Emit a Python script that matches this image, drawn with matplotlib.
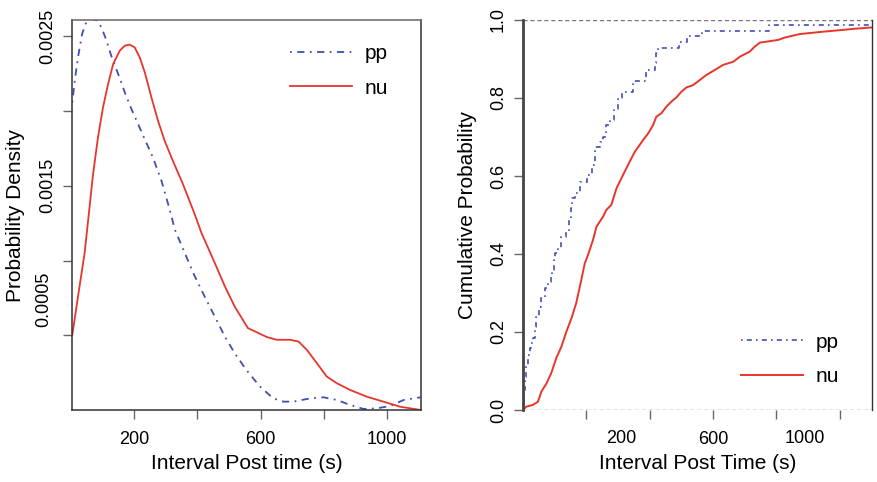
import matplotlib
matplotlib.use("Agg")
import matplotlib.pyplot as plt
import numpy as np

plt.rcParams['font.family'] = ['Liberation Sans', 'DejaVu Sans']

# ---- density curves (left panel) ----
pp_dens_x = [5, 12.6, 23, 36, 49, 65, 81, 97, 113, 128, 150, 171, 192, 213, 234, 260, 287,
             313, 329, 360, 392, 423, 455, 487, 518, 555, 598, 640, 672, 704, 757, 799,
             841, 883, 925, 967, 1010, 1052, 1106]
pp_dens_y = [0.002058, 0.002203, 0.00236, 0.002517, 0.002595, 0.002617, 0.00261, 0.002562,
             0.002472, 0.002371, 0.002248, 0.002125, 0.002013, 0.001913, 0.001812, 0.001689,
             0.001532, 0.00134, 0.001208, 0.001052, 0.000895, 0.00076, 0.000626, 0.000492,
             0.000381, 0.000268, 0.000157, 0.000078, 0.000056, 0.000056, 0.000078, 0.000085,
             0.000067, 0.000034, 0.000007, 0.000011, 0.000027, 0.000067, 0.000085]

nu_dens_x = [5, 23, 44, 57, 70.5, 86, 102, 118, 134, 155, 171, 186, 202, 218, 234, 255, 276,
             297, 323, 355, 392, 413, 455, 487, 518, 560, 620, 651, 693, 720, 746, 778, 809,
             841, 883, 936, 988, 1041, 1106]
nu_dens_y = [0.000503, 0.00076, 0.001052, 0.001309, 0.001577, 0.001823, 0.002025, 0.002181,
             0.002315, 0.002405, 0.002438, 0.002445, 0.002427, 0.00236, 0.00226, 0.002092,
             0.001935, 0.001801, 0.001666, 0.00151, 0.001309, 0.001186, 0.000985, 0.000828,
             0.000693, 0.000548, 0.000488, 0.00047, 0.00047, 0.000458, 0.000403, 0.000313,
             0.000224, 0.000179, 0.000134, 0.000089, 0.000056, 0.000022, 0.0]

# ---- ECDF points (right panel) ----
pp_ecdf_x = [0, 3, 5, 10, 15, 21, 26, 31, 37, 42, 52, 58, 68, 79, 87, 91, 97, 100, 110, 121,
             137, 145, 150, 155, 163, 181, 203, 218, 226, 242, 253, 263, 274, 287, 300, 313,
             347, 387, 416, 421, 426, 493, 519, 564, 776, 1102]
pp_ecdf_y = [0.0, 0.051, 0.085, 0.115, 0.141, 0.158, 0.171, 0.184, 0.214, 0.239, 0.265, 0.286,
             0.312, 0.329, 0.342, 0.359, 0.385, 0.402, 0.415, 0.444, 0.457, 0.487, 0.517, 0.543,
             0.556, 0.585, 0.603, 0.628, 0.675, 0.688, 0.701, 0.731, 0.744, 0.772, 0.799, 0.816,
             0.844, 0.872, 0.889, 0.915, 0.929, 0.944, 0.959, 0.973, 0.987, 0.987]

nu_ecdf_x = [0, 10, 31, 47, 58, 74, 89, 105, 121, 137, 153, 168, 184, 195, 205, 221, 232, 253,
             263, 279, 295, 316, 337, 353, 379, 395, 411, 421, 437, 453, 469, 485, 500, 516,
             537, 558, 579, 606, 632, 664, 685, 716, 732, 748, 806, 827, 874, 948, 1001, 1054,
             1102]
nu_ecdf_y = [0.0, 0.0085, 0.013, 0.021, 0.047, 0.068, 0.094, 0.133, 0.162, 0.201, 0.235, 0.274,
             0.333, 0.376, 0.397, 0.436, 0.47, 0.496, 0.513, 0.526, 0.568, 0.603, 0.637, 0.662,
             0.692, 0.709, 0.731, 0.752, 0.761, 0.778, 0.791, 0.802, 0.816, 0.827, 0.833, 0.846,
             0.859, 0.872, 0.885, 0.893, 0.906, 0.919, 0.932, 0.942, 0.949, 0.955, 0.964, 0.970,
             0.974, 0.978, 0.981]

series_labels = ['pp', 'nu']
x_ticks = [200, 400, 600, 800, 1000]

BLUE = '#3F4FB3'
RED = '#E8352B'
DOTDASH = (0, (1, 3, 4, 3))
TICK_FS = 13
LAB_FS = 15

fig = plt.figure(figsize=(8.77, 4.82), dpi=100)
ax1 = fig.add_axes([72/877, 72/482, 349/877, 390/482])
ax2 = fig.add_axes([523/877, 72/482, 349/877, 390/482])

# ---------------- left panel ----------------
ax1.plot(pp_dens_x, pp_dens_y, color=BLUE, lw=1.3, ls=DOTDASH, label=series_labels[0])
ax1.plot(nu_dens_x, nu_dens_y, color=RED, lw=1.3, label=series_labels[1])
ax1.set_xlim(4, 1107)
ax1.set_ylim(0, 0.00261)
ax1.set_xticks(x_ticks, ['200', '', '600', '', '1000'])
ax1.set_yticks([0.0005, 0.001, 0.0015, 0.002, 0.0025], ['', '', '0.0015', '', '0.0025'])
ax1.set_yticks([0.00074], ['0.0005'], minor=True)
ax1.tick_params(axis='y', which='minor', length=0, pad=14.5)
for sp in ax1.spines.values():
    sp.set_color('#333333')
    sp.set_linewidth(1.1)
ax1.spines['top'].set_color('#666666')

ax1.set_xlabel('Interval Post time (s)', fontsize=LAB_FS)
ax1.set_ylabel('Probability Density', fontsize=LAB_FS)
ax1.xaxis.set_label_coords(0.5, -0.112)
ax1.yaxis.set_label_coords(-0.135, 0.5)
ax1.legend(loc='upper left', bbox_to_anchor=(0.6, 0.96), frameon=False, fontsize=LAB_FS,
           handlelength=3.0, handletextpad=0.6, labelspacing=0.75, borderaxespad=0)

# ---------------- right panel ----------------
ax2.plot(pp_ecdf_x, pp_ecdf_y, color=BLUE, lw=1.2, ls=(0, (1, 2.5, 3, 2.5)),
         drawstyle='steps-post', label=series_labels[0])
ax2.plot(nu_ecdf_x, nu_ecdf_y, color=RED, lw=1.4, label=series_labels[1])
ax2.axhline(0, color='#777777', lw=1.0, ls=(0, (3, 2)))
ax2.axhline(1, color='#777777', lw=1.0, ls=(0, (3, 2)))
ax2.set_xlim(0, 1102)
ax2.set_ylim(0, 1)
ax2.set_xticks(x_ticks, ['', '', '600', '', ''])
ax2.set_xticks([311, 890], ['200', '1000'], minor=True)
ax2.tick_params(axis='x', which='minor', length=0, pad=14.5)
ax2.set_yticks([0, 0.2, 0.4, 0.6, 0.8, 1.0], ['0.0', '0.2', '0.4', '0.6', '0.8', '1.0'])
ax2.spines['top'].set_visible(False)
ax2.spines['bottom'].set_visible(False)
ax2.spines['left'].set_color('#444444')
ax2.spines['left'].set_linewidth(2.0)
ax2.spines['right'].set_color('#333333')
ax2.spines['right'].set_linewidth(1.0)

ax2.set_xlabel('Interval Post Time (s)', fontsize=LAB_FS)
ax2.set_ylabel('Cumulative Probability', fontsize=LAB_FS)
ax2.xaxis.set_label_coords(0.5, -0.112)
ax2.yaxis.set_label_coords(-0.132, 0.5)
ax2.legend(loc='upper left', bbox_to_anchor=(0.6, 0.22), frameon=False, fontsize=LAB_FS,
           handlelength=3.0, handletextpad=0.6, labelspacing=0.75, borderaxespad=0)

for ax in (ax1, ax2):
    ax.tick_params(axis='both', which='major', length=6.5, width=1.0, color='#666666',
                   labelsize=TICK_FS, direction='out')
    ax.tick_params(axis='x', which='major', pad=8.5)
    ax.tick_params(axis='y', which='major', pad=5)
    ax.tick_params(axis='both', which='minor', labelsize=TICK_FS)
    for lab in ax.get_yticklabels(which='both'):
        lab.set_rotation(90)
        lab.set_va('center')

fig.savefig('out.png', dpi=100)
